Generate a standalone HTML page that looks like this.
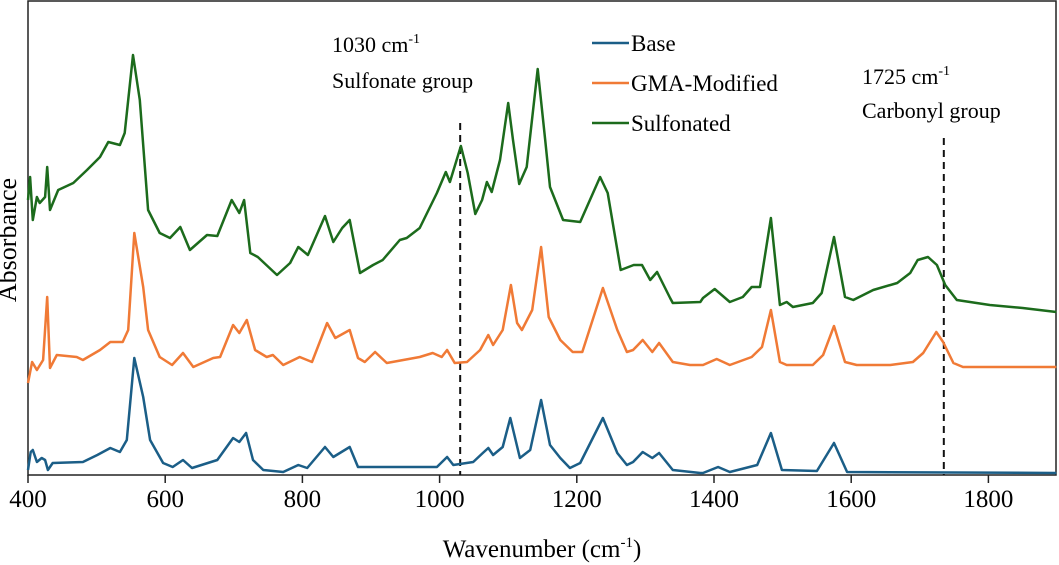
<!DOCTYPE html>
<html><head><meta charset="utf-8"><style>
html,body{margin:0;padding:0;background:#fff;}
svg{display:block;font-family:"Liberation Serif",serif;}
</style></head><body>
<svg id="chart" width="1059" height="565" viewBox="0 0 1059 565">
<rect x="28" y="1" width="1028" height="474" fill="none" stroke="#222" stroke-width="1.5"/>
<g id="ticks"></g>
<g id="marks"></g>
<text x="16" y="240" font-size="26" text-anchor="middle" transform="rotate(-90 16 240)">Absorbance</text>
<text x="542" y="557" font-size="25" text-anchor="middle">Wavenumber (cm<tspan font-size="15" dy="-10">-1</tspan><tspan dy="10">)</tspan></text>
<text x="332" y="52" font-size="22">1030 cm<tspan font-size="14" dy="-9">-1</tspan></text>
<text x="332" y="88" font-size="22">Sulfonate group</text>
<text x="862" y="84" font-size="22">1725 cm<tspan font-size="14" dy="-9">-1</tspan></text>
<text x="862" y="118" font-size="22">Carbonyl group</text>
<g>
<g><line x1="592" y1="43" x2="629" y2="43" stroke="#1b5e87" stroke-width="2.5"/><text x="631" y="51" font-size="23">Base</text></g>
<g><line x1="592" y1="83" x2="629" y2="83" stroke="#f07a36" stroke-width="2.5"/><text x="631" y="91" font-size="23">GMA-Modified</text></g>
<g><line x1="592" y1="123" x2="629" y2="123" stroke="#1c6b1c" stroke-width="2.5"/><text x="631" y="131" font-size="23">Sulfonated</text></g>
</g>
</svg>
<script>
const xTicks = [400,600,800,1000,1200,1400,1600,1800];
const markers = [1030,1735];
const markerTops = [352,337];
const seriesNames = ["Base","GMA-Modified","Sulfonated"];
const seriesColors = ["#1b5e87","#f07a36","#1c6b1c"];
const baseX = [400,404,407,413,420,425,429,436,480,501,520,534,544,555,568,578,597,611,626,639,676,699,708,718,728,743,772,794,807,833,845,869,881,952,996,1011,1020,1049,1063,1071,1078,1092,1103,1117,1132,1148,1161,1176,1190,1205,1238,1259,1273,1282,1296,1310,1320,1340,1380,1384,1406,1423,1463,1483,1499,1550,1575,1594,1899];
const baseY = [5,23,25,13,17,15,5,12,13,20,27,23,35,117,78,35,12,8,15,7,15,37,33,42,15,5,3,10,7,28,18,28,8,8,8,18,10,13,22,27,20,28,57,17,25,75,30,17,7,12,57,22,10,13,23,17,22,5,2,2,8,3,10,42,5,4,32,3,2];
const gmaX = [400,406,413,422,428,432,442,471,480,505,520,538,546,555,568,575,592,610,626,641,670,680,699,708,719,731,748,757,772,796,814,836,848,869,881,891,906,923,971,990,1003,1011,1022,1040,1059,1071,1078,1092,1104,1113,1120,1135,1148,1159,1176,1194,1208,1238,1259,1273,1282,1296,1310,1320,1340,1365,1384,1404,1423,1455,1470,1483,1496,1506,1544,1559,1575,1591,1608,1657,1690,1705,1724,1734,1749,1763,1899];
const gmaY = [92,113,105,115,178,107,120,118,115,125,133,133,145,242,188,145,118,110,122,108,117,118,150,142,155,125,118,120,110,118,113,152,137,145,117,113,123,112,118,122,118,125,112,113,125,140,130,145,190,152,145,165,228,158,135,123,123,187,145,123,125,135,123,132,113,110,110,116,110,118,128,165,113,110,110,120,149,113,110,110,113,122,143,133,112,108,108];
const sulfX = [400,403,407,413,417,425,428,432,444,466,486,505,517,534,541,553,563,575,592,607,622,636,661,676,697,708,715,724,735,763,782,794,808,833,845,858,869,884,903,917,942,952,971,996,1009,1015,1031,1041,1052,1062,1069,1076,1088,1100,1107,1116,1127,1143,1154,1161,1180,1205,1234,1245,1264,1283,1295,1307,1317,1336,1340,1380,1384,1401,1423,1442,1455,1467,1483,1496,1506,1515,1544,1557,1575,1591,1603,1632,1667,1686,1697,1712,1725,1737,1754,1802,1850,1899];
const sulfY = [275,298,255,278,272,278,308,265,285,292,305,318,333,330,342,420,375,265,242,237,248,225,240,239,275,262,275,222,218,200,212,228,220,259,233,247,255,202,210,215,235,237,247,282,303,293,329,302,261,275,293,283,315,372,335,291,308,406,335,288,255,253,298,282,205,210,210,195,203,177,172,173,177,186,173,178,188,188,257,170,173,168,172,182,238,178,175,185,192,202,215,218,210,190,175,170,167,163];
const xDomain = [400,1900], xRange = [28,1057];
const yDomain = [0,475], yRange = [475,0];
function xs(v){return xRange[0]+(v-xDomain[0])/(xDomain[1]-xDomain[0])*(xRange[1]-xRange[0]);}
function ys(v){return yRange[0]+(v-yDomain[0])/(yDomain[1]-yDomain[0])*(yRange[1]-yRange[0]);}
const NS="http://www.w3.org/2000/svg";
const tg=document.getElementById('ticks');
xTicks.forEach(t=>{
  const l=document.createElementNS(NS,'line');
  l.setAttribute('x1',xs(t));l.setAttribute('x2',xs(t));l.setAttribute('y1',475);l.setAttribute('y2',483);
  l.setAttribute('stroke','#222');l.setAttribute('stroke-width','1.5');
  
  
  tg.appendChild(l);
  const tx=document.createElementNS(NS,'text');
  tx.setAttribute('x',xs(t));tx.setAttribute('y',507);tx.setAttribute('font-size','25');tx.setAttribute('text-anchor','middle');
  tx.textContent=t;
  
  
  tg.appendChild(tx);
});
const mg=document.getElementById('marks');
markers.forEach((m,i)=>{
  const l=document.createElementNS(NS,'line');
  l.setAttribute('x1',xs(m));l.setAttribute('x2',xs(m));l.setAttribute('y1',ys(markerTops[i]));l.setAttribute('y2',475);
  l.setAttribute('stroke','#111');l.setAttribute('stroke-width','2');l.setAttribute('stroke-dasharray','7,5');
  
  
  mg.appendChild(l);
});
const allX=[baseX,gmaX,sulfX], allY=[baseY,gmaY,sulfY];
allX.forEach((X,i)=>{
  const p=document.createElementNS(NS,'polyline');
  p.setAttribute('points',X.map((x,j)=>xs(x).toFixed(1)+','+ys(allY[i][j]).toFixed(1)).join(' '));
  p.setAttribute('fill','none');p.setAttribute('stroke',seriesColors[i]);p.setAttribute('stroke-width','2.5');
  p.setAttribute('stroke-linejoin','round');
  
  
  mg.appendChild(p);
});
</script>
</body></html>
